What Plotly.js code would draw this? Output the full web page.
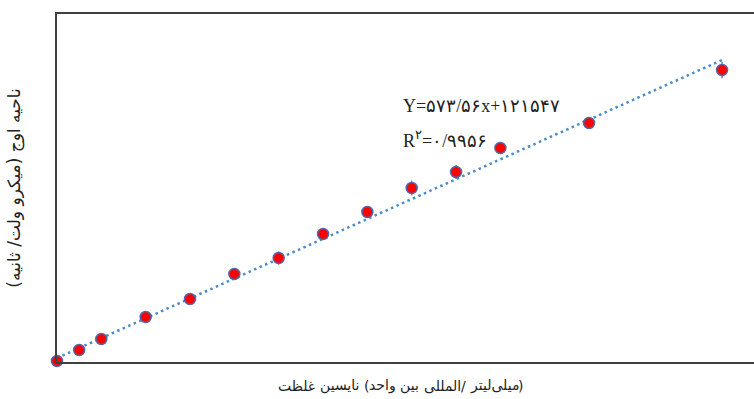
<!DOCTYPE html>
<html>
<head>
<meta charset="utf-8">
<script src="https://cdn.plot.ly/plotly-3.0.1.min.js"></script>
<style>html,body{margin:0;padding:0;background:#fff;}#chart{width:754px;height:399px;}</style>
</head>
<body>
<div id="chart"></div>
<script>
// Concentration (IU/mL) and peak area (µV·s)
const concentration = [0, 50, 100, 200, 300, 400, 500, 600, 700, 800, 900, 1000, 1200, 1500];
const peakArea = [112900, 144600, 176400, 239900, 291900, 364100, 410200, 479500, 543000, 612300, 658500, 727800, 800000, 953000];
const peakError = [9000, 9000, 10000, 10000, 10000, 12000, 19000, 12000, 12000, 21000, 20000, 14000, 12000, 24000];
// Linear trendline endpoints (Y = 573.56x + 121547)
const trendX = [0, 1500];
const trendY = [121547, 981887];

const equationText = 'Y=۵۷۳/۵۶x+۱۲۱۵۴۷';
const r2Text = 'R<sup>۲</sup>=۰/۹۹۵۶';
// x-axis title pieces, in the left-to-right order the reference shows them
const xTitleTokens = ['غلظت', 'نایسین', '(', 'واحد', 'بین', 'المللی', '/', 'میلی‌لیتر', ')'];
const xTitleSpaceAfter = [true, true, false, true, true, false, true, false, false];
const yTitle = 'ناحیه اوج (میکرو ولت/ ثانیه)\u200F';

const titleFont = {family: 'DejaVu Sans, sans-serif', size: 14, color: '#222'};
const M = {l: 57, r: 0, t: 14, b: 37};
const W = 754, H = 399;

// measure each title piece so the pieces can be set side by side
function measure(tokens, font) {
  const ns = 'http://www.w3.org/2000/svg';
  const svg = document.createElementNS(ns, 'svg');
  svg.setAttribute('width', 10); svg.setAttribute('height', 10);
  svg.style.position = 'absolute'; svg.style.left = '-1000px';
  document.body.appendChild(svg);
  const out = tokens.map(function (w) {
    const t = document.createElementNS(ns, 'text');
    t.setAttribute('font-family', font.family);
    t.setAttribute('font-size', font.size);
    t.textContent = w;
    svg.appendChild(t);
    return t.getComputedTextLength();
  });
  document.body.removeChild(svg);
  return out;
}

const plotW = W - M.l - M.r, plotH = H - M.t - M.b;
const widths = measure(xTitleTokens, titleFont);
const gap = 4.5;
let total = 0;
widths.forEach(function (w, i) { total += w + (xTitleSpaceAfter[i] ? gap : 0); });
const titleCenterPx = 400, titleMidPx = 386;
let cursor = titleCenterPx - total / 2;
const titleAnnotations = xTitleTokens.map(function (w, i) {
  const a = {
    xref: 'paper', yref: 'paper',
    x: (cursor - M.l) / plotW, y: (H - M.b - titleMidPx) / plotH,
    xanchor: 'left', yanchor: 'middle', text: w, showarrow: false,
    borderpad: 0, font: titleFont
  };
  cursor += widths[i] + (xTitleSpaceAfter[i] ? gap : 0);
  return a;
});

const traces = [
  {
    x: trendX, y: trendY, type: 'scatter', mode: 'lines',
    line: {color: '#4a8cc8', width: 2.5, dash: '2.5px,3.5px'},
    hoverinfo: 'skip', showlegend: false
  },
  {
    x: concentration, y: peakArea, type: 'scatter', mode: 'markers',
    cliponaxis: false,
    marker: {color: '#ff0000', size: 11, line: {color: '#5068a8', width: 1.5}},
    error_y: {type: 'data', array: peakError, visible: true, color: '#808080', thickness: 1.5, width: 0},
    showlegend: false
  }
];

const layout = {
  width: W, height: H,
  margin: M,
  paper_bgcolor: '#ffffff', plot_bgcolor: '#ffffff',
  showlegend: false,
  xaxis: {
    range: [0, 1572], showgrid: false, zeroline: false, showticklabels: false, ticks: '',
    showline: true, linecolor: '#404040', linewidth: 2, mirror: true,
    automargin: false
  },
  yaxis: {
    range: [110000, 1114700], showgrid: false, zeroline: false, showticklabels: false, ticks: '',
    showline: true, linecolor: '#404040', linewidth: 2, mirror: false,
    title: {text: yTitle, font: {family: 'DejaVu Sans, sans-serif', size: 17, color: '#222'}, standoff: 30},
    automargin: false
  },
  annotations: [
    {xref: 'paper', yref: 'paper', x: 0.4935, y: 0.7356, xanchor: 'left', yanchor: 'middle',
     text: equationText, showarrow: false,
     font: {family: 'Liberation Serif, DejaVu Serif, serif', size: 18, color: '#222'}},
    {xref: 'paper', yref: 'paper', x: 0.4935, y: 0.6408, xanchor: 'left', yanchor: 'middle',
     text: r2Text, showarrow: false,
     font: {family: 'Liberation Serif, DejaVu Serif, serif', size: 18, color: '#222'}}
  ].concat(titleAnnotations)
};

Plotly.newPlot('chart', traces, layout, {displayModeBar: false, staticPlot: true});
</script>
</body>
</html>
